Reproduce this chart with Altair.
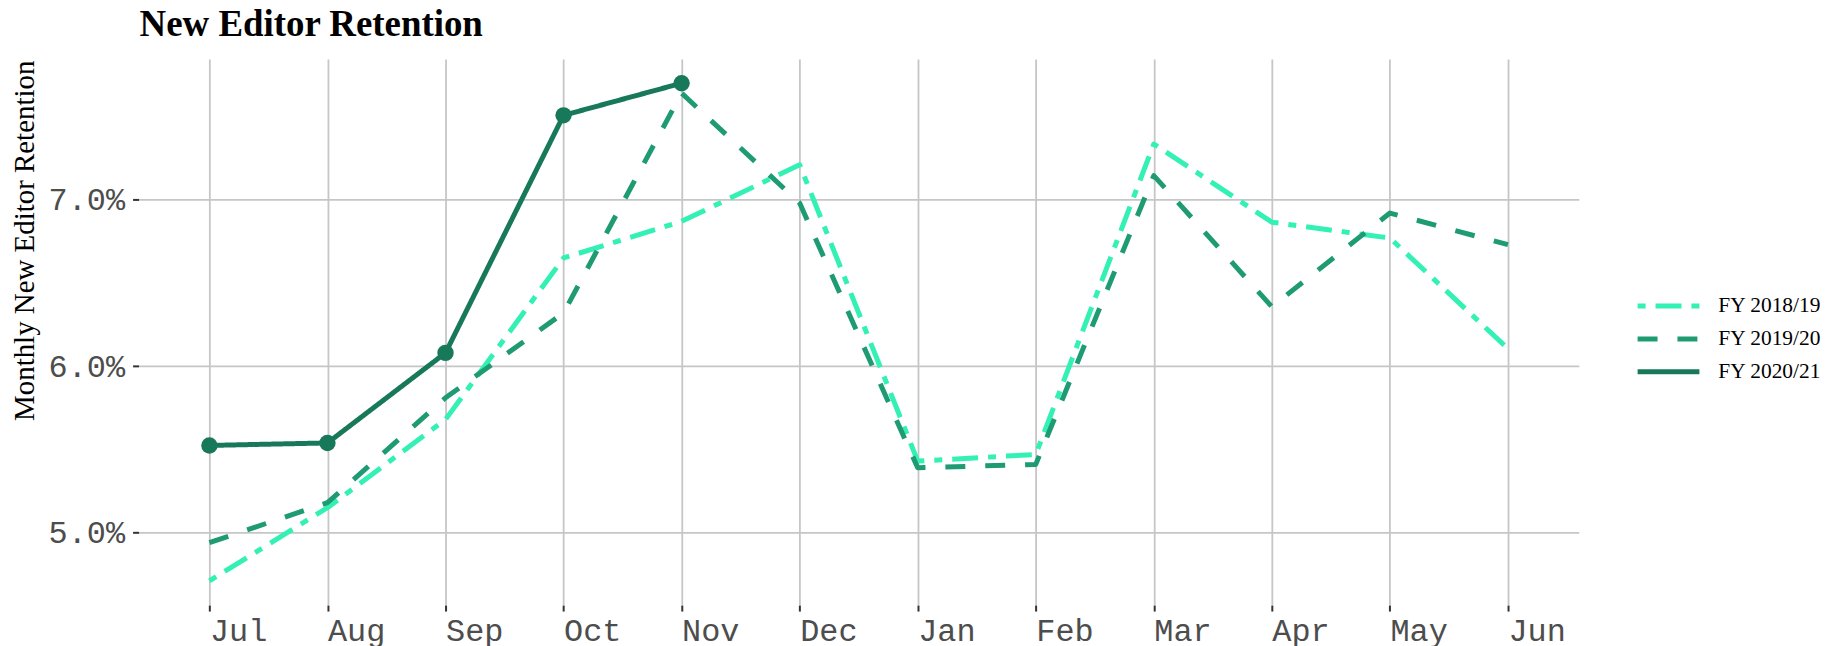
import altair as alt
import pandas as pd

title_text = "New Editor Retention"
months = ["Jul", "Aug", "Sep", "Oct", "Nov", "Dec", "Jan", "Feb", "Mar", "Apr", "May", "Jun"]
fy1819 = [4.71, 5.15, 5.68, 6.65, 6.87, 7.21, 5.43, 5.47, 7.335, 6.865, 6.77, 6.105]
fy1920 = [4.94, 5.18, 5.81, 6.32, 7.64, 6.98, 5.39, 5.41, 7.145, 6.357, 6.92, 6.73]
fy2021 = [5.524, 5.539, 6.08, 7.507, 7.70]
series_names = ["FY 2018/19", "FY 2019/20", "FY 2020/21"]
series_colors = ["#33F0B4", "#1E9B73", "#18785A"]
y_ticks = [5, 6, 7]

rows = []
for name, vals in zip(series_names, [fy1819, fy1920, fy2021]):
    for m, v in zip(months, vals):
        rows.append({"month": m, "value": v, "fy": name})
df = pd.DataFrame(rows)
df_pts = df[df["fy"] == "FY 2020/21"]

x_enc = alt.X(
    "month:N", sort=months,
    scale=alt.Scale(type="point", padding=0.6),
    axis=alt.Axis(title=None, labelAngle=0, labelAlign="left", labelBaseline="top",
                  labelFont="Liberation Mono", labelFontSize=32, labelColor="#4D4D4D",
                  labelPadding=5, tickColor="#333333", tickWidth=2, tickSize=6,
                  grid=True, gridColor="#C6C6C6", gridWidth=1.8, domain=False),
)
y_enc = alt.Y(
    "value:Q",
    scale=alt.Scale(domain=[4.565, 7.846], nice=False, zero=False),
    axis=alt.Axis(values=y_ticks, labelExpr="format(datum.value, '.1f') + '%'",
                  title="Monthly New Editor Retention", titleFont="Liberation Serif",
                  titleFontSize=29, titleFontWeight="normal", titleColor="black",
                  titleX=-114, titleY=182, titleAlign="center", titleBaseline="middle",
                  titleAngle=270,
                  labelFont="Liberation Mono", labelFontSize=32, labelColor="#4D4D4D",
                  labelPadding=8, tickColor="#333333", tickWidth=2, tickSize=6,
                  grid=True, gridColor="#C6C6C6", gridWidth=1.8, domain=False),
)

lines = alt.Chart(df).mark_line(strokeCap="butt", strokeJoin="round").encode(
    x=x_enc,
    y=y_enc,
    color=alt.Color("fy:N", scale=alt.Scale(domain=series_names, range=series_colors),
                    legend=alt.Legend(title=None, orient="none", legendX=1517, legendY=230,
                                      symbolType="M-2,0H2", symbolSize=961,
                                      labelFont="Liberation Serif", labelFontSize=21.5,
                                      labelColor="black", labelOffset=32, rowPadding=4)),
    strokeDash=alt.StrokeDash("fy:N", scale=alt.Scale(domain=series_names,
                                                      range=[[8, 10, 26, 10], [20, 20], [1, 0]])),
    strokeWidth=alt.StrokeWidth("fy:N", scale=alt.Scale(domain=series_names, range=[5, 5, 7.5])),
    detail="fy:N",
)

points = alt.Chart(df_pts).mark_circle(size=270, opacity=1, color=series_colors[2]).encode(
    x=alt.X("month:N", sort=months),
    y=alt.Y("value:Q"),
)

title_df = pd.DataFrame({"t": [title_text]})
title_mark = alt.Chart(title_df).mark_text(
    align="left", baseline="alphabetic", font="Liberation Serif", fontSize=37,
    fontWeight="bold", color="black",
).encode(x=alt.value(1), y=alt.value(-23), text="t:N")

chart = alt.layer(lines, points, title_mark).properties(
    width=1445, height=548,
    autosize=alt.AutoSizeParams(type="none"),
    padding={"left": 131, "top": 50, "right": 244, "bottom": 42},
).configure_view(stroke=None)

chart.save("out.html", embed_options={"renderer": "svg", "actions": False})
